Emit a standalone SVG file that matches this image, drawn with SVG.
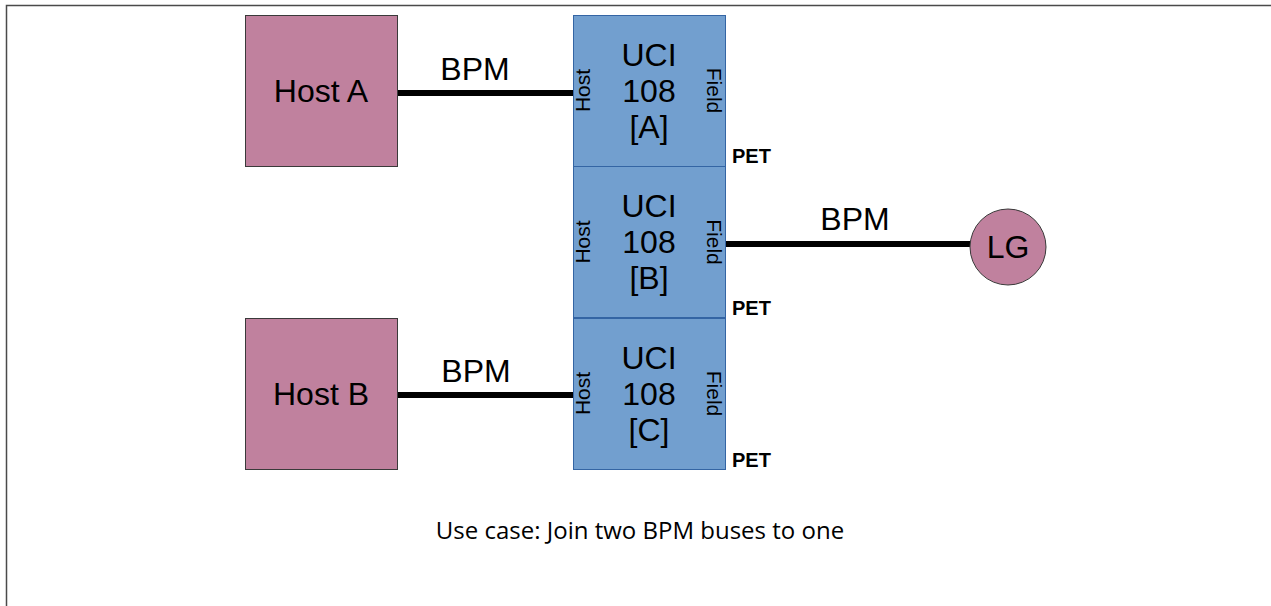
<svg xmlns="http://www.w3.org/2000/svg" width="1271" height="606" viewBox="0 0 1271 606">
<defs>
<style>
.host{fill:#c0819e;stroke:#3a3a3a;stroke-width:1}
.uci{fill:#729fcf;stroke:#3465a4;stroke-width:1}
.t{font-family:"Liberation Sans",Arial,sans-serif;fill:#000}
.big{font-size:32px;text-anchor:middle}
.side{font-size:21px;text-anchor:middle}
.pet{font-size:20px;font-weight:bold}
.bus{stroke:#000;stroke-width:6;fill:none}
.cap{font-family:"Open Sans","Noto Sans",sans-serif;font-size:24px;text-anchor:middle;fill:#000}
</style>
</defs>
<rect width="1271" height="606" fill="#fff"/>
<path d="M6.5,606 V5.5 H1271" fill="none" stroke="#4a4a4a" stroke-width="1.5"/>
<g id="connectors">
<line class="bus" x1="397" y1="93" x2="573" y2="93"/>
<line class="bus" x1="725" y1="244" x2="970" y2="244"/>
<line class="bus" x1="397" y1="395" x2="573" y2="395"/>
<text class="t big" x="475" y="80">BPM</text>
<text class="t big" x="855" y="230">BPM</text>
<text class="t big" x="476" y="382">BPM</text>
</g>
<g id="hostA">
<rect class="host" x="245.5" y="15.5" width="152" height="151"/>
<text class="t big" x="321" y="102">Host A</text>
</g>
<g id="hostB">
<rect class="host" x="245.5" y="318.5" width="152" height="151"/>
<text class="t big" x="321" y="405">Host B</text>
</g>
<g id="uciA">
<rect class="uci" x="573.5" y="15.5" width="152" height="151"/>
<text class="t big" x="649" y="65.5">UCI</text>
<text class="t big" x="649" y="101.5">108</text>
<text class="t big" x="649" y="137.5">[A]</text>
<text class="t side" transform="translate(590,90.5) rotate(-90)">Host</text>
<text class="t side" transform="translate(707,90.5) rotate(90)">Field</text>
<text class="t pet" x="732" y="163">PET</text>
</g>
<g id="uciB">
<rect class="uci" x="573.5" y="166.5" width="152" height="151"/>
<text class="t big" x="649" y="217">UCI</text>
<text class="t big" x="649" y="253">108</text>
<text class="t big" x="649" y="289">[B]</text>
<text class="t side" transform="translate(590,242) rotate(-90)">Host</text>
<text class="t side" transform="translate(707,242) rotate(90)">Field</text>
<text class="t pet" x="732" y="315">PET</text>
</g>
<g id="uciC">
<rect class="uci" x="573.5" y="318.5" width="152" height="151"/>
<text class="t big" x="649" y="368.5">UCI</text>
<text class="t big" x="649" y="404.5">108</text>
<text class="t big" x="649" y="440.5">[C]</text>
<text class="t side" transform="translate(590,393.5) rotate(-90)">Host</text>
<text class="t side" transform="translate(707,393.5) rotate(90)">Field</text>
<text class="t pet" x="732" y="467">PET</text>
</g>
<g id="lg">
<circle cx="1008" cy="247" r="38" fill="#c0819e" stroke="#3a3a3a" stroke-width="1"/>
<text class="t big" x="1008" y="258">LG</text>
</g>
<g id="caption">
<text class="cap" x="640" y="539">Use case: Join two BPM buses to one</text>
</g>
</svg>
